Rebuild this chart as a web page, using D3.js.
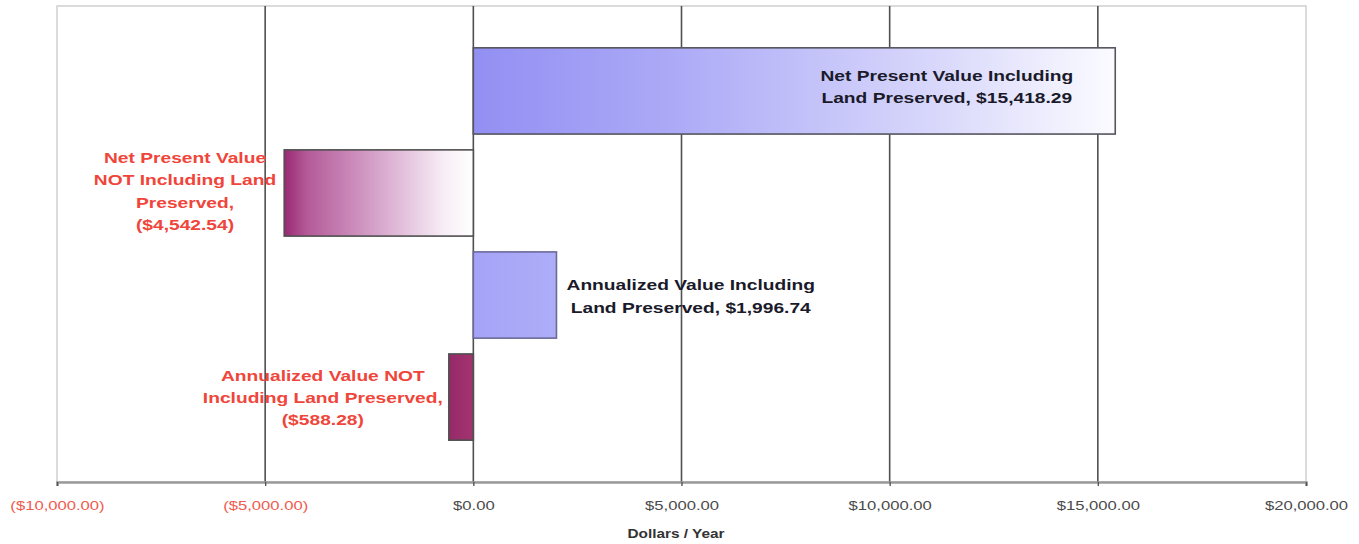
<!DOCTYPE html>
<html>
<head>
<meta charset="utf-8">
<script src="https://cdn.jsdelivr.net/npm/d3@7"></script>
<style>
  html, body { margin: 0; padding: 0; background: #ffffff; }
  svg { display: block; }
  text { font-family: "Liberation Sans", Arial, sans-serif; }
</style>
</head>
<body>
<svg id="chart" width="1359" height="544"></svg>
<script>
// Categories (top to bottom) and their values in dollars
const categories = [
  "NPV Including Land Preserved",
  "NPV NOT Including Land Preserved",
  "Annualized Including Land Preserved",
  "Annualized NOT Including Land Preserved"
];
const values = [15418.29, -4542.54, 1996.74, -588.28];

// Label text lines per bar; "{v}" is replaced by the formatted value
const labelLines = [
  ["Net Present Value Including", "Land Preserved, {v}"],
  ["Net Present Value", "NOT Including Land", "Preserved,", "{v}"],
  ["Annualized Value Including", "Land Preserved, {v}"],
  ["Annualized Value NOT", "Including Land Preserved,", "{v}"]
];

// Axis
const xDomain = [-10000, 20000];
const xTicks = [-10000, -5000, 0, 5000, 10000, 15000, 20000];
const xTitle = "Dollars / Year";

// ---- layout ----
const W = 1359, H = 544;
const plot = { left: 57, right: 1306, top: 6, bottom: 482 };
const STRETCH = 1.28; // horizontal stretch applied to all text

const svg = d3.select("#chart");

const x = d3.scaleLinear().domain(xDomain).range([plot.left, plot.right]);
const y = d3.scaleBand().domain(categories)
  .range([plot.top, plot.bottom])
  .paddingInner(0.155).paddingOuter(0.41);

const money = v => {
  const s = "$" + d3.format(",.2f")(Math.abs(v));
  return v < 0 ? "(" + s + ")" : s;
};

// ---- gradients ----
const defs = svg.append("defs");
const gradStops = [
  [[0, "#928ff3"], [0.3, "#aba9f6"], [0.7, "#d6d5fb"], [1, "#fbfbff"]],
  [[0, "#9a2873"], [0.12, "#b45a98"], [0.5, "#d7a6cd"], [0.85, "#f8eef6"], [1, "#ffffff"]],
  [[0, "#a5a3f6"], [1, "#aeadf8"]],
  [[0, "#952a68"], [1, "#a3346f"]]
];
gradStops.forEach((stops, i) => {
  const g = defs.append("linearGradient").attr("id", "grad" + i)
    .attr("x1", "0%").attr("x2", "100%").attr("y1", "0%").attr("y2", "0%");
  stops.forEach(([o, c]) => g.append("stop").attr("offset", o).attr("stop-color", c));
});

// ---- plot frame ----
svg.append("rect")
  .attr("x", plot.left).attr("y", plot.top)
  .attr("width", plot.right - plot.left).attr("height", plot.bottom - plot.top)
  .attr("fill", "#ffffff").attr("stroke", "#cfcfcf").attr("stroke-width", 1.5);

// gridlines
svg.append("g").selectAll("line")
  .data(xTicks.filter(t => t > xDomain[0] && t < xDomain[1]))
  .join("line")
  .attr("x1", d => x(d)).attr("x2", d => x(d))
  .attr("y1", plot.top).attr("y2", plot.bottom)
  .attr("stroke", "#505050").attr("stroke-width", 1.6);

// ---- bars ----
const barStroke = ["#555560", "#505050", "#6a6a9a", "#505050"];
svg.append("g").selectAll("rect")
  .data(categories)
  .join("rect")
  .attr("x", (d, i) => x(Math.min(0, values[i])))
  .attr("y", d => y(d))
  .attr("width", (d, i) => Math.abs(x(values[i]) - x(0)))
  .attr("height", y.bandwidth())
  .attr("fill", (d, i) => `url(#grad${i})`)
  .attr("stroke", (d, i) => barStroke[i])
  .attr("stroke-width", 1.6);

// ---- bottom axis ----
const axis = d3.axisBottom(x).tickValues(xTicks).tickSize(4).tickPadding(15)
  .tickFormat(d => money(d));
const ax = svg.append("g").attr("transform", `translate(0,${plot.bottom})`).call(axis);
ax.select(".domain").attr("stroke", "#9a9a9a").attr("stroke-width", 2.6);
ax.selectAll(".tick line").attr("stroke", "#555").attr("stroke-width", 1.4);
ax.selectAll(".tick text")
  .attr("font-size", 13)
  .attr("fill", d => d < 0 ? "#f05a4e" : "#4a4a4a")
  .attr("transform", `scale(${STRETCH},1)`);

svg.append("text")
  .attr("transform", `translate(676,538) scale(${STRETCH},1)`)
  .attr("text-anchor", "middle")
  .attr("font-size", 12).attr("font-weight", "bold").attr("fill", "#333")
  .text(xTitle);

// ---- data labels ----
// placement: where the label block sits relative to the bar end
const placement = [
  { side: "inside", gap: 42, dy: -4.5 },
  { side: "outside", gap: 8, dy: -2 },
  { side: "outside", gap: 10, dy: 1 },
  { side: "outside", gap: 6, dy: 0.5 }
];
const lineH = 22.3;
const labelG = svg.append("g");
categories.forEach((cat, i) => {
  const v = values[i];
  const lines = labelLines[i].map(s => s.replace("{v}", money(v)));
  const color = v < 0 ? "#f0453a" : "#1a1a2a";
  const blk = labelG.append("g");
  const texts = lines.map((s, k) => blk.append("text")
    .attr("text-anchor", "middle")
    .attr("font-size", 15).attr("font-weight", "bold").attr("fill", color)
    .text(s));
  const maxW = d3.max(texts, t => t.node().getComputedTextLength()) * STRETCH;
  const end = x(v);
  let cx;
  const p = placement[i];
  if (p.side === "inside") cx = end - p.gap - maxW / 2;
  else cx = v < 0 ? end - p.gap - maxW / 2 : end + p.gap + maxW / 2;
  const midY = y(cat) + y.bandwidth() / 2 + p.dy;
  const firstY = midY - (lines.length - 1) * lineH / 2 + 5.5;
  texts.forEach((t, k) => t.attr("transform",
    `translate(${cx},${firstY + k * lineH}) scale(${STRETCH},1)`));
});
</script>
</body>
</html>
